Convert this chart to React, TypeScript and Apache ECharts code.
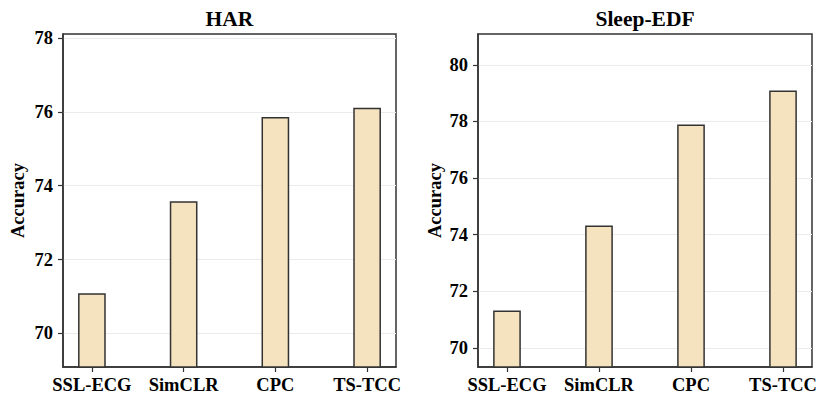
import React, { useEffect, useRef } from "react";
import * as echarts from "echarts";

const categories = ["SSL-ECG", "SimCLR", "CPC", "TS-TCC"];
const harValues = [71.09, 73.58, 75.86, 76.11];
const sleepValues = [71.32, 74.32, 77.89, 79.09];
const harTicks = [70, 72, 74, 76, 78];
const sleepTicks = [70, 72, 74, 76, 78, 80];
const categoryPositions = [0, 1, 2, 3];
const titles = ["HAR", "Sleep-EDF"];

const FONT = '"Liberation Serif", "Times New Roman", serif';
const DARK = "#333333";
const BAR_FILL = "#F5E2BE";

export default function App() {
  const ref = useRef<HTMLDivElement>(null);

  useEffect(() => {
    if (!ref.current) return;
    const chart = echarts.init(ref.current, undefined, { renderer: "svg" });

    const grids = [
      { left: 63, top: 34, width: 333, height: 333 },
      { left: 478, top: 34, width: 334, height: 333 },
    ];

    const makeX = (gridIndex: number) => ({
      type: "value",
      gridIndex,
      min: -0.315,
      max: 3.315,
      splitLine: { show: false },
      axisLine: { show: true, onZero: false, lineStyle: { color: DARK, width: 1.5 } },
      axisTick: {
        show: true,
        customValues: categoryPositions,
        length: 5,
        lineStyle: { color: DARK, width: 1.2 },
      },
      axisLabel: {
        customValues: categoryPositions,
        formatter: (v: number) => categories[Math.round(v)] ?? "",
        fontFamily: FONT,
        fontWeight: "bold",
        fontSize: 18.5,
        color: "#000",
        margin: 8,
      },
    });

    const makeY = (gridIndex: number, min: number, max: number, ticks: number[], gap: number) => ({
      type: "value",
      gridIndex,
      min,
      max,
      name: "Accuracy",
      nameLocation: "middle",
      nameRotate: 90,
      nameGap: gap,
      nameTextStyle: {
        fontFamily: FONT,
        fontWeight: "bold",
        fontSize: 18.5,
        color: "#000",
      },
      axisLine: { show: true, onZero: false, lineStyle: { color: DARK, width: 1.5 } },
      axisTick: {
        show: true,
        customValues: ticks,
        length: 5,
        lineStyle: { color: DARK, width: 1.2 },
      },
      splitLine: { show: true, lineStyle: { color: "#ebebeb", width: 1 } },
      axisLabel: {
        customValues: ticks,
        fontFamily: FONT,
        fontWeight: "bold",
        fontSize: 18.5,
        color: "#000",
        margin: 10,
      },
    });

    const makeSeries = (idx: number, values: number[]) => ({
      type: "bar",
      xAxisIndex: idx,
      yAxisIndex: idx,
      data: values.map((v, i) => [categoryPositions[i], v]),
      barWidth: 27.7,
      itemStyle: { color: BAR_FILL, borderColor: DARK, borderWidth: 1.5 },
      clip: true,
    });

    chart.setOption({
      animation: false,
      backgroundColor: "#ffffff",
      grid: grids.map((g) => ({
        ...g,
        show: true,
        borderColor: DARK,
        borderWidth: 1.5,
        backgroundColor: "transparent",
      })),
      xAxis: [makeX(0), makeX(1)],
      yAxis: [
        makeY(0, 69.09, 78.11, harTicks, 36),
        makeY(1, 69.32, 81.09, sleepTicks, 34),
      ],
      series: [makeSeries(0, harValues), makeSeries(1, sleepValues)],
      graphic: titles.map((t, i) => ({
        type: "text",
        x: grids[i].left + grids[i].width / 2,
        y: 18.5,
        style: {
          text: t,
          align: "center",
          verticalAlign: "middle",
          fontFamily: FONT,
          fontWeight: "bold",
          fontSize: 21.5,
          fill: "#000",
        },
      })),
    });

    return () => chart.dispose();
  }, []);

  return (
    <div
      ref={ref}
      style={{ position: "fixed", left: 0, top: 0, width: 830, height: 406 }}
    />
  );
}
